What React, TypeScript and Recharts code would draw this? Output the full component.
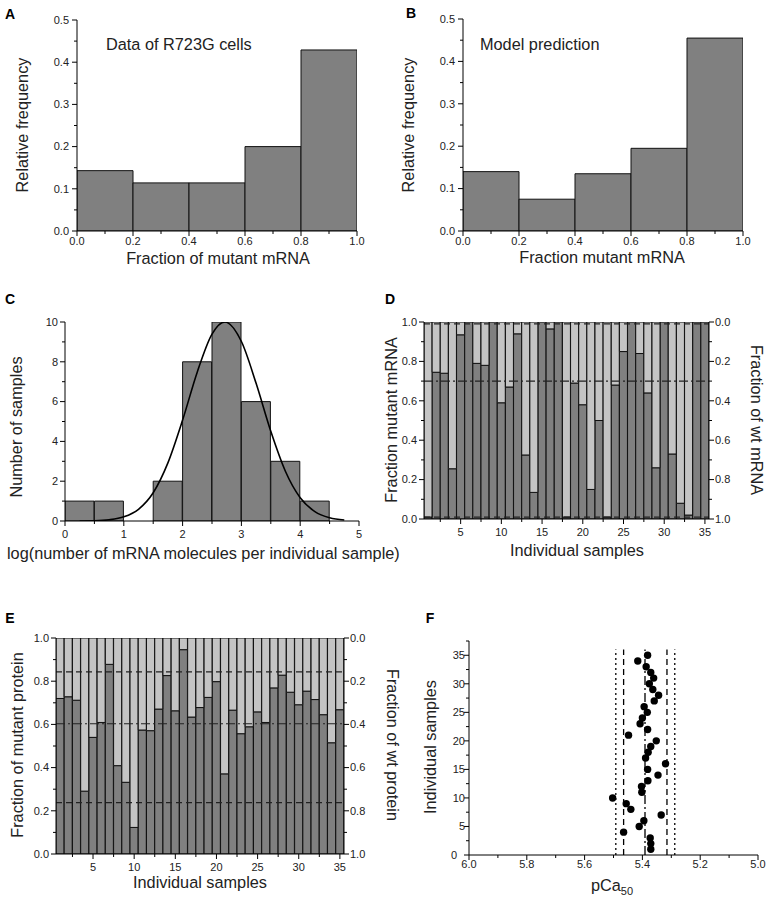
import React from 'react';
import { ComposedChart, Bar, Line, Scatter, XAxis, YAxis, ReferenceLine } from 'recharts';

// ---------------- data ----------------
const binCenters = [0.1, 0.3, 0.5, 0.7, 0.9];
const freqR723G = [0.143, 0.114, 0.114, 0.2, 0.429];
const freqModel = [0.14, 0.075, 0.135, 0.195, 0.455];
const fracTicks = [0, 0.1, 0.2, 0.3, 0.4, 0.5, 0.6, 0.7, 0.8, 0.9, 1.0];
const fracMajors = [0, 0.2, 0.4, 0.6, 0.8, 1.0];
const relTicks = [0, 0.05, 0.1, 0.15, 0.2, 0.25, 0.3, 0.35, 0.4, 0.45, 0.5];
const relMajors = [0, 0.1, 0.2, 0.3, 0.4, 0.5];

const logBinCenters = [0.25, 0.75, 1.25, 1.75, 2.25, 2.75, 3.25, 3.75, 4.25];
const logCounts = [1, 1, 0, 2, 8, 10, 6, 3, 1];
const fitX = [0.25, 0.5, 0.75, 1, 1.25, 1.5, 1.75, 2, 2.25, 2.5, 2.72, 3, 3.25, 3.5, 3.75, 4, 4.25, 4.5, 4.75];
const fitY = [0, 0.01, 0.06, 0.21, 0.59, 1.42, 2.92, 5.07, 7.49, 9.39, 10, 9.02, 6.92, 4.51, 2.49, 1.17, 0.47, 0.16, 0.05];
const logTicks = [0, 0.5, 1, 1.5, 2, 2.5, 3, 3.5, 4, 4.5, 5];
const logMajors = [0, 1, 2, 3, 4, 5];
const countTicks = [0, 1, 2, 3, 4, 5, 6, 7, 8, 9, 10];
const countMajors = [0, 2, 4, 6, 8, 10];

const samples = [1, 2, 3, 4, 5, 6, 7, 8, 9, 10, 11, 12, 13, 14, 15, 16, 17, 18, 19, 20, 21, 22, 23, 24, 25, 26, 27, 28, 29, 30, 31, 32, 33, 34, 35];
const mutantMRNA = [0.01, 0.745, 0.74, 0.255, 0.935, 1.0, 0.79, 0.78, 1.0, 0.59, 0.67, 0.94, 0.325, 0.135, 1.0, 0.965, 1.0, 0.01, 0.69, 0.58, 0.15, 0.5, 0.01, 0.68, 0.85, 1.0, 0.84, 0.64, 0.26, 1.0, 0.33, 0.08, 0.02, 1.0, 1.0];
const mutantProtein = [0.72, 0.728, 0.712, 0.291, 0.54, 0.609, 0.878, 0.409, 0.332, 0.123, 0.574, 0.571, 0.671, 0.826, 0.663, 0.946, 0.634, 0.678, 0.725, 0.798, 0.371, 0.666, 0.557, 0.589, 0.658, 0.609, 0.769, 0.828, 0.749, 0.691, 0.754, 0.715, 0.645, 0.515, 0.668];
const sampleTicks = [2.5, 5, 7.5, 10, 12.5, 15, 17.5, 20, 22.5, 25, 27.5, 30, 32.5, 35];
const sampleMajors = [5, 10, 15, 20, 25, 30, 35];
const mrnaDashDot = [0.7];
const mrnaDashed = [0.99, 0.01];
const proteinDashDot = [0.603];
const proteinDashed = [0.843, 0.238];

const pCa50 = [5.371, 5.371, 5.373, 5.465, 5.411, 5.395, 5.335, 5.44, 5.456, 5.503, 5.402, 5.403, 5.381, 5.346, 5.382, 5.32, 5.389, 5.38, 5.371, 5.352, 5.448, 5.382, 5.408, 5.4, 5.383, 5.394, 5.359, 5.344, 5.364, 5.376, 5.361, 5.371, 5.387, 5.416, 5.382];
const pCaTicks = [5.0, 5.1, 5.2, 5.3, 5.4, 5.5, 5.6, 5.7, 5.8, 5.9, 6.0];
const pCaMajors = [5.0, 5.2, 5.4, 5.6, 5.8, 6.0];
const sampleYTicks = [0, 2.5, 5, 7.5, 10, 12.5, 15, 17.5, 20, 22.5, 25, 27.5, 30, 32.5, 35, 37.5];
const sampleYMajors = [0, 5, 10, 15, 20, 25, 30, 35];
const pCaDotted = [5.492, 5.288];
const pCaDashed = [5.465, 5.315];
const pCaDashDot = [5.391];
const pCaLineTop = 36;

// ---------------- styles ----------------
const FONT = '"Liberation Sans", Arial, Helvetica, sans-serif';
const DARK = '#808080';
const LIGHT = '#c4c4c4';
const TICK_FS = 11;
const LP = 50;
const TP = 12;
const BP = 30;
const DASHDOT = '9 3 2 3';
const DASHED = '6 4';
const DOTTED = '2 3';

const near = (a: number, b: number) => Math.abs(a - b) < 1e-6;
const f1 = (v: number) => v.toFixed(1);
const fi = (v: number) => String(Math.round(v));

function tickFactory(side: 'left' | 'right' | 'bottom', majors: number[], fmt: (v: number) => string, gap: number, zeroGap?: number) {
  return function Tick(props: any) {
    const { x, y, payload } = props;
    const v = Number(payload.value);
    const major = majors.some((m) => near(m, v));
    const len = major ? 5 : 3;
    const g = zeroGap !== undefined && near(v, 0) ? zeroGap : gap;
    const common = { fontSize: TICK_FS, fontFamily: FONT, fill: '#222' };
    if (side === 'left') {
      return (
        <g>
          <line x1={x} y1={y} x2={x - len} y2={y} stroke="#000" strokeWidth={1} />
          {major && (
            <text x={x - g} y={y} dy="0.35em" textAnchor="end" {...common}>
              {fmt(v)}
            </text>
          )}
        </g>
      );
    }
    if (side === 'right') {
      return (
        <g>
          <line x1={x} y1={y} x2={x + len} y2={y} stroke="#000" strokeWidth={1} />
          {major && (
            <text x={x + g} y={y} dy="0.35em" textAnchor="start" {...common}>
              {fmt(v)}
            </text>
          )}
        </g>
      );
    }
    return (
      <g>
        <line x1={x} y1={y} x2={x} y2={y + len} stroke="#000" strokeWidth={1} />
        {major && (
          <text x={x} y={y + g} dy="0.75em" textAnchor="middle" {...common}>
            {fmt(v)}
          </text>
        )}
      </g>
    );
  };
}

const axisCommon = {
  tickLine: false,
  tickSize: 0,
  tickMargin: 0,
  interval: 0 as const,
  allowDataOverflow: true,
  axisLine: { stroke: '#000', strokeWidth: 1 },
};

function Txt({ x, y, children, size = 16.3, rotate = 0, anchor = 'middle', bold = false }: any) {
  const tx = anchor === 'start' ? '0' : '-50%';
  return (
    <div
      style={{
        position: 'absolute',
        left: x,
        top: y,
        transform: `translate(${tx}, -50%) rotate(${rotate}deg)`,
        transformOrigin: anchor === 'start' ? 'left center' : 'center center',
        fontFamily: FONT,
        fontSize: size,
        fontWeight: bold ? 'bold' : 'normal',
        lineHeight: 1,
        whiteSpace: 'nowrap',
        color: bold ? '#000' : '#222',
      }}
    >
      {children}
    </div>
  );
}

function FreqPanel({ x0, y0, w, h, values }: any) {
  const data = binCenters.map((b, i) => ({ bin: b, f: values[i] }));
  const RP = 12;
  return (
    <div style={{ position: 'absolute', left: x0 - LP, top: y0 - TP }}>
      <ComposedChart width={LP + w + RP} height={TP + h + BP} data={data} barCategoryGap={0} barGap={0} margin={{ top: TP, right: RP, bottom: 0, left: 0 }}>
        <XAxis dataKey="bin" type="number" domain={[0, 1]} ticks={fracTicks} height={BP} tick={tickFactory('bottom', fracMajors, f1, 6)} {...axisCommon} />
        <YAxis type="number" domain={[0, 0.5]} ticks={relTicks} width={LP} tick={tickFactory('left', relMajors, f1, 8)} {...axisCommon} />
        <Bar dataKey="f" fill={DARK} stroke="#111" strokeWidth={1} isAnimationActive={false} />
      </ComposedChart>
    </div>
  );
}

function LogPanel({ x0, y0, w, h }: any) {
  const data = logBinCenters.map((b, i) => ({ x: b, n: logCounts[i] }));
  const fit = fitX.map((x, i) => ({ fx: x, y: fitY[i] }));
  const RP = 12;
  return (
    <div style={{ position: 'absolute', left: x0 - LP, top: y0 - TP }}>
      <ComposedChart width={LP + w + RP} height={TP + h + BP} data={data} barCategoryGap={0} barGap={0} margin={{ top: TP, right: RP, bottom: 0, left: 0 }}>
        <XAxis dataKey="x" type="number" domain={[0, 5]} ticks={logTicks} height={BP} tick={tickFactory('bottom', logMajors, fi, 9)} {...axisCommon} />
        <XAxis xAxisId="fit" dataKey="fx" type="number" domain={[0, 5]} allowDataOverflow hide />
        <YAxis type="number" domain={[0, 10]} ticks={countTicks} width={LP} tick={tickFactory('left', countMajors, fi, 7)} {...axisCommon} />
        <Bar dataKey="n" fill={DARK} stroke="#111" strokeWidth={1} isAnimationActive={false} />
        <Line xAxisId="fit" data={fit} dataKey="y" type="monotone" dot={false} stroke="#000" strokeWidth={1.6} isAnimationActive={false} />
      </ComposedChart>
    </div>
  );
}

function StackPanel({ x0, y0, w, h, values, dashDot, dashed }: any) {
  const data = samples.map((s, i) => ({ s, m: values[i], wt: 1 - values[i] }));
  const RP = 50;
  return (
    <div style={{ position: 'absolute', left: x0 - LP, top: y0 - TP }}>
      <ComposedChart width={LP + w + RP} height={TP + h + BP} data={data} barCategoryGap={0} barGap={0} margin={{ top: TP, right: 0, bottom: 0, left: 0 }}>
        <XAxis xAxisId="x" dataKey="s" type="number" domain={[0.5, 35.5]} ticks={sampleTicks} height={BP} tick={tickFactory('bottom', sampleMajors, fi, 9)} {...axisCommon} />
        <YAxis yAxisId="L" type="number" domain={[0, 1]} ticks={fracTicks} width={LP} tick={tickFactory('left', fracMajors, f1, 7)} {...axisCommon} />
        <YAxis yAxisId="R" orientation="right" reversed type="number" domain={[0, 1]} ticks={fracTicks} width={RP} tick={tickFactory('right', fracMajors, f1, 6)} {...axisCommon} />
        <Bar xAxisId="x" yAxisId="L" dataKey="m" stackId="a" fill={DARK} stroke="#111" strokeWidth={1} isAnimationActive={false} />
        <Bar xAxisId="x" yAxisId="L" dataKey="wt" stackId="a" fill={LIGHT} stroke="#111" strokeWidth={1} isAnimationActive={false} />
        {dashDot.map((v: number) => (
          <ReferenceLine key={'dd' + v} xAxisId="x" yAxisId="L" y={v} stroke="#222" strokeWidth={1.2} strokeDasharray={DASHDOT} />
        ))}
        {dashed.map((v: number) => (
          <ReferenceLine key={'d' + v} xAxisId="x" yAxisId="L" y={v} stroke="#222" strokeWidth={1.2} strokeDasharray={DASHED} />
        ))}
      </ComposedChart>
    </div>
  );
}

function PCaPanel({ x0, y0, w, h }: any) {
  const data = pCa50.map((p, i) => ({ p, s: samples[i] }));
  const RP = 8;
  const vline = (v: number, dash: string, k: string) => (
    <ReferenceLine key={k + v} segment={[{ x: v, y: 0 }, { x: v, y: pCaLineTop }]} stroke="#000" strokeWidth={1.3} strokeDasharray={dash} />
  );
  return (
    <div style={{ position: 'absolute', left: x0 - LP, top: y0 - TP }}>
      <ComposedChart width={LP + w + RP} height={TP + h + BP} data={data} margin={{ top: TP, right: RP, bottom: 0, left: 0 }}>
        <XAxis dataKey="p" type="number" reversed domain={[5, 6]} ticks={pCaTicks} height={BP} tick={tickFactory('bottom', pCaMajors, f1, 5)} {...axisCommon} />
        <YAxis dataKey="s" type="number" domain={[0, 37.5]} ticks={sampleYTicks} width={LP} tick={tickFactory('left', sampleYMajors, fi, 4, 12)} {...axisCommon} />
        {pCaDotted.map((v) => vline(v, DOTTED, 'o'))}
        {pCaDashed.map((v) => vline(v, DASHED, 'd'))}
        {pCaDashDot.map((v) => vline(v, DASHDOT, 'dd'))}
        <Scatter
          data={data}
          dataKey="s"
          isAnimationActive={false}
          shape={(props: any) => <circle cx={props.cx} cy={props.cy} r={3.7} fill="#000" />}
        />
      </ComposedChart>
    </div>
  );
}

export default function App() {
  return (
    <div style={{ position: 'absolute', left: 0, top: 0, width: 767, height: 901, background: '#fff', overflow: 'hidden' }}>
      <FreqPanel x0={77} y0={20} w={280} h={211} values={freqR723G} />
      <FreqPanel x0={463} y0={19} w={280} h={212} values={freqModel} />
      <LogPanel x0={65} y0={322} w={294} h={199} />
      <StackPanel x0={424} y0={322} w={285} h={197} values={mutantMRNA} dashDot={mrnaDashDot} dashed={mrnaDashed} />
      <StackPanel x0={56} y0={638} w={288} h={216} values={mutantProtein} dashDot={proteinDashDot} dashed={proteinDashed} />
      <PCaPanel x0={469} y0={641} w={289} h={214} />

      <Txt x={10} y={14} size={14} bold>A</Txt>
      <Txt x={411} y={13} size={14} bold>B</Txt>
      <Txt x={10} y={299} size={14} bold>C</Txt>
      <Txt x={390} y={299} size={14} bold>D</Txt>
      <Txt x={10} y={618} size={14} bold>E</Txt>
      <Txt x={430} y={618} size={14} bold>F</Txt>

      <Txt x={106} y={44} anchor="start">Data of R723G cells</Txt>
      <Txt x={480} y={44} anchor="start">Model prediction</Txt>

      <Txt x={22} y={125} rotate={-90}>Relative frequency</Txt>
      <Txt x={218} y={258}>Fraction of mutant mRNA</Txt>
      <Txt x={408} y={125} rotate={-90}>Relative frequency</Txt>
      <Txt x={602} y={257}>Fraction mutant mRNA</Txt>

      <Txt x={16} y={427} rotate={-90}>Number of samples</Txt>
      <Txt x={7} y={553} anchor="start">log(number of mRNA molecules per individual sample)</Txt>

      <Txt x={391} y={420} rotate={-90}>Fraction mutant mRNA</Txt>
      <Txt x={757} y={420} rotate={90}>Fraction of wt mRNA</Txt>
      <Txt x={577} y={550}>Individual samples</Txt>

      <Txt x={17} y={745} rotate={-90}>Fraction of mutant protein</Txt>
      <Txt x={393} y={745} rotate={90}>Fraction of wt protein</Txt>
      <Txt x={200} y={882}>Individual samples</Txt>

      <Txt x={430} y={747} rotate={-90}>Individual samples</Txt>
      <Txt x={612} y={887}>
        pCa<sub style={{ fontSize: 11 }}>50</sub>
      </Txt>
    </div>
  );
}
